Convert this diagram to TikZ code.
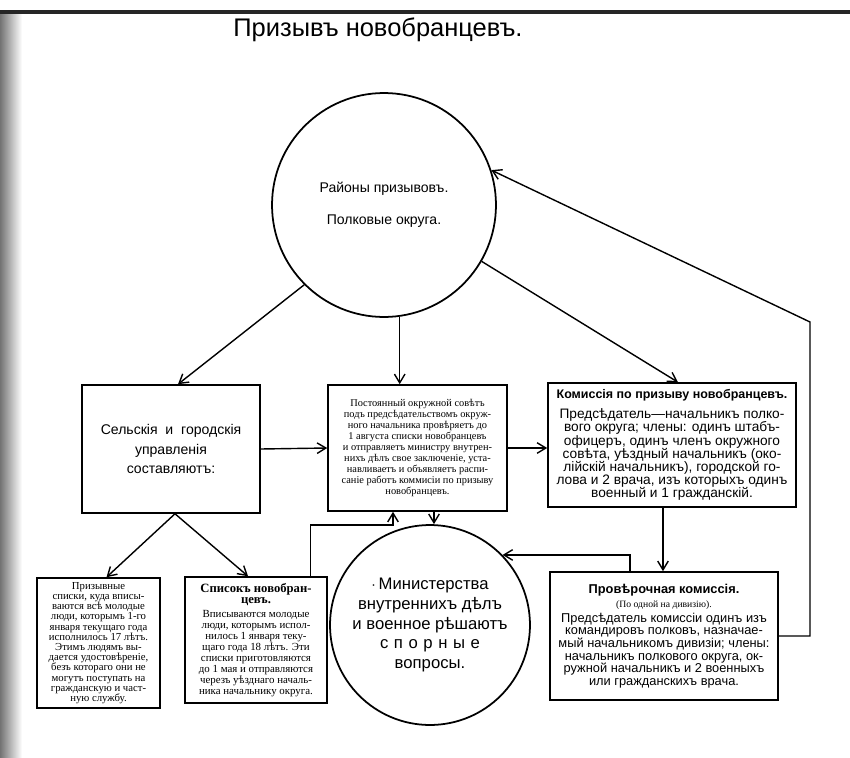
\documentclass[tikz,border=0pt]{standalone}
\usepackage{fontspec}
\setmainfont{Liberation Serif}
\setsansfont{Liberation Sans}
\usetikzlibrary{calc}
\usetikzlibrary{arrows.meta}
\tikzset{>={Straight Barb[length=5pt,width=6pt]}}
\tikzset{
	% boxes and circles
	box/.style={draw,line width=0.9pt,inner sep=0pt,align=center},
	ring/.style={draw,circle,line width=1pt,inner sep=0pt,align=center},
	% connectors
	link/.style={->,line width=0.8pt},
}

\begin{document}
\begin{tikzpicture}[x=0.02cm,y=-0.02cm]
\useasboundingbox (0,0) rectangle (850,758);
% scanned page edges
\fill[left color=black!55,right color=white] (0,12) rectangle (22,758);
\draw[line width=1.8pt,black!85] (0,12) -- (850,12);
% title
\node[font=\sffamily\fontsize{14.5}{16}\selectfont] (title) at (378,30) {Призывъ новобранцевъ.};
% the two circles
\node[ring,minimum size=4.48cm,font=\sffamily\fontsize{8}{10}\selectfont] (rajony) at (384,205)
  {Районы призывовъ.\\[8pt] Полковые округа.};
\node[ring,minimum size=4cm,font=\sffamily\fontsize{9.5}{11.3}\selectfont] (minist) at (430,625)
  {$\cdot$\,Министерства\\ внутреннихъ дѣлъ\\ и военное рѣшаютъ\\ с\,\,п\,\,о\,\,р\,\,н\,\,ы\,\,е\\ вопросы.};
% the boxes
\node[box,minimum width=3.56cm,minimum height=2.56cm,font=\sffamily\fontsize{8}{11.3}\selectfont] (selsk) at (171,449)
  {Сельскія\ \ и\ \ городскія\\ управленія\\ составляютъ:};
\node[box,minimum width=3.58cm,minimum height=2.52cm,font=\fontsize{5.9}{6.2}\selectfont] (sovet) at (417.5,448)
  {Постоянный окружной совѣтъ\\ подъ предсѣдательствомъ окруж-\\ного начальника провѣряетъ до\\ 1 августа списки новобранцевъ\\ и отправляетъ министру внутрен-\\нихъ дѣлъ свое заключеніе, уста-\\навливаетъ и объявляетъ распи-\\саніе работъ коммисіи по призыву\\ новобранцевъ.};
\node[box,minimum width=4.96cm,minimum height=2.48cm,font=\sffamily\fontsize{7.8}{7.5}\selectfont] (komis) at (672,445)
  {\textbf{\fontsize{7.1}{8}\selectfont Комиссія по призыву новобранцевъ.}\\[4pt]
   Предсѣдатель---начальникъ полко-\\вого округа; члены: одинъ штабъ-\\офицеръ, одинъ членъ окружного\\ совѣта, уѣздный начальникъ (око-\\лійскій начальникъ), городской го-\\лова и 2 врача, изъ которыхъ одинъ\\ военный и 1 гражданскій.};
\node[box,minimum width=2.46cm,minimum height=2.6cm,font=\fontsize{6.1}{5.8}\selectfont] (spiski) at (98.5,643)
  {Призывные\\ списки, куда вписы-\\ваются всѣ молодые\\ люди, которымъ 1-го\\ января текущаго года\\ исполнилось 17 лѣтъ.\\ Этимъ людямъ вы-\\дается удостовѣреніе,\\ безъ котораго они не\\ могутъ поступать на\\ гражданскую и част-\\ную службу.};
\node[box,minimum width=2.84cm,minimum height=2.52cm,font=\fontsize{6.2}{6.2}\selectfont] (spisok) at (256,640)
  {\textbf{\fontsize{7.2}{8}\selectfont Списокъ новобран-}\\ \textbf{\fontsize{7.2}{8}\selectfont цевъ.}\\[2pt]
   Вписываются молодые\\ люди, которымъ испол-\\нилось 1 января теку-\\щаго года 18 лѣтъ. Эти\\ списки приготовляются\\ до 1 мая и отправляются\\ черезъ уѣзднаго началь-\\ника начальнику округа.};
\node[box,minimum width=4.56cm,minimum height=2.56cm,font=\sffamily\fontsize{7.3}{7.2}\selectfont] (prov) at (664,636)
  {\textbf{Провѣрочная комиссія.}\\[1pt]
   {\rmfamily\fontsize{5.5}{6}\selectfont (По одной на дивизію).}\\[1pt]
   Предсѣдатель комиссіи одинъ изъ\\ командировъ полковъ, назначае-\\мый начальникомъ дивизіи; члены:\\ начальникъ полкового округа, ок-\\ружной начальникъ и 2 военныхъ\\ или гражданскихъ врача.};
% knees of the bent connectors
\coordinate (knee) at (393,525);
\coordinate (rloop) at (810,322);
\coordinate (mtop) at ($(minist.north)+(4,0)$);
\coordinate (pdrop) at ($(prov.north)+(-1,0)$);
\coordinate (pup) at ($(prov.north)+(-34,0)$);
% connectors
\draw[link] (rajony.225) -- ($(selsk.north)+(7,0)$);
\draw[link] (rajony.-82) -- (rajony.-82 |- sovet.north);
\draw[link] (rajony.-30.7) -- ($(komis.north)+(6,0)$);
\draw[link] (selsk.east) -- (sovet.west);
\draw[link] (sovet.east) -- (sovet.east -| komis.west);
\draw[link] ($(selsk.south)+(4,0)$) -- ($(spiski.north)+(8,0)$);
\draw[link] ($(selsk.south)+(4,0)$) -- ($(spisok.north)+(-8,0)$);
\draw[link] ($(spisok.north east)+(-17,0)$) |- (knee) -- (knee |- sovet.south);
\draw[link] (mtop |- sovet.south) -- (mtop);
\draw[link] (pdrop |- komis.south) -- (pdrop);
\draw[link] (pup) |- (minist.44);
\draw[link] (prov.east) -| (rloop) -- (rajony.18);
\end{tikzpicture}
\end{document}
